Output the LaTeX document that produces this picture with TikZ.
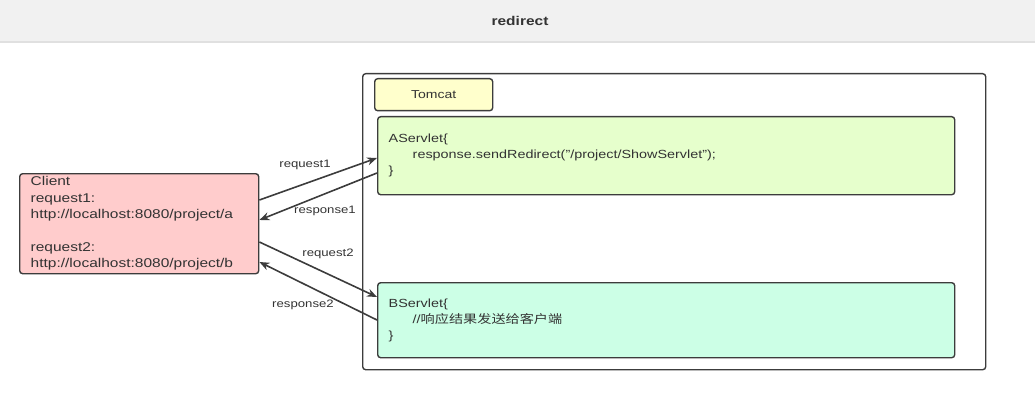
\documentclass[tikz,border=0pt]{standalone}
\usepackage{fontspec}
\setmainfont[FakeStretch=1.22]{Liberation Sans}
\newfontfamily\cjk[FakeStretch=1.2]{Noto Sans CJK SC}
\usetikzlibrary{arrows.meta}
\definecolor{txtgray}{HTML}{333333}
\definecolor{linegray}{HTML}{3C3C3C}
\definecolor{headfill}{HTML}{F1F1F1}
\definecolor{clientfill}{HTML}{FFCCCC}
\definecolor{tomfill}{HTML}{FFFFCC}
\definecolor{afill}{HTML}{E6FFCC}
\definecolor{bfill}{HTML}{CCFFE6}
\tikzset{
  box/.style={draw=linegray, line width=1.4pt, rounded corners=3pt, anchor=north west,
    inner sep=0pt, text=txtgray},
  codebox/.style={box, minimum width=577pt, minimum height=77pt, align=left,
    text width=555pt, inner xsep=11pt, font=\fontsize{11.8}{16}\selectfont},
  lbl/.style={text=txtgray, font=\fontsize{10.8}{13}\selectfont},
  msg/.style={draw=linegray, line width=1.6pt, -{Stealth[length=10pt,width=8pt]}}
}
\begin{document}
\begin{tikzpicture}[x=1pt,y=-1pt]
  \useasboundingbox (0,0) rectangle (1035,401);
  % title band
  \fill[headfill] (0,0) rectangle (1035,42);
  \draw[black!12, line width=1.2pt] (0,42) -- (1035,42);
  \node[text=txtgray, font=\bfseries\fontsize{12.7}{15}\selectfont] (title) at (520,21) {redirect};
  % server side
  \node[box, minimum width=623pt, minimum height=296pt] (tomcat) at (362,73) {};
  \node[box, fill=tomfill, minimum width=118pt, minimum height=32pt,
    font=\fontsize{11.5}{14}\selectfont] (tomlbl) at (374,78) {Tomcat};
  \node[codebox, fill=afill, minimum height=78pt] (aservlet) at (377,116)
    {AServlet\{\\\hspace*{24pt}response.sendRedirect("/project/ShowServlet");\\\}};
  \node[codebox, fill=bfill, minimum height=75pt] (bservlet) at (377,282)
    {BServlet\{\\\hspace*{24pt}//{\cjk 响应结果发送给客户端}\\\}};
  % client
  \node[box, fill=clientfill, minimum width=239pt, minimum height=100pt, align=left,
    text width=217pt, inner xsep=11pt, font=\fontsize{12.7}{16.4}\selectfont] (client) at (19,173)
    {Client\\request1:\\http://localhost:8080/project/a\\[16.4pt]request2:\\http://localhost:8080/project/b};
  % messages
  \draw[msg] ([yshift=-27pt]client.north east) -- ([yshift=-42pt]aservlet.north west);
  \draw[msg] ([yshift=-57pt]aservlet.north west) -- ([yshift=-47pt]client.north east);
  \draw[msg] ([yshift=-69pt]client.north east) -- ([yshift=-15pt]bservlet.north west);
  \draw[msg] ([yshift=-38pt]bservlet.north west) -- ([yshift=-89pt]client.north east);
  \node[lbl] (lreq1) at (305,165) {request1};
  \node[lbl] (lres1) at (325,211) {response1};
  \node[lbl] (lreq2) at (328,254) {request2};
  \node[lbl] (lres2) at (303,305) {response2};
\end{tikzpicture}
\end{document}
